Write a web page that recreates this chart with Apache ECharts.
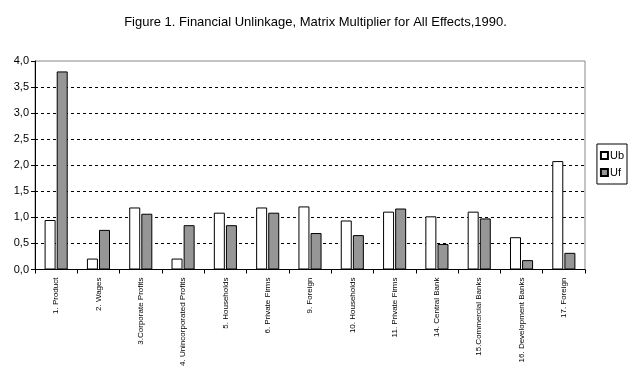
<!DOCTYPE html>
<html><head><meta charset="utf-8">
<script src="https://cdn.jsdelivr.net/npm/echarts@6/dist/echarts.min.js"></script>
<style>html,body{margin:0;padding:0;background:#fff}#c{width:631px;height:369px}</style>
</head><body><div id="c"></div>
<script>
const categories = ["1. Product","2. Wages","3.Corporate Profits","4. Unincorporated Profits","5. Households","6. Private Firms","9. Foreign","10. Households","11. Private Firms","14. Central Bank","15.Commercial Banks","16. Development Banks","17. Foreign"];
const ub = [0.95,0.21,1.19,0.21,1.09,1.19,1.21,0.94,1.11,1.02,1.11,0.62,2.08];
const uf = [3.80,0.76,1.07,0.85,0.85,1.09,0.70,0.66,1.17,0.49,0.98,0.18,0.32];
const yTicks = [0,0.5,1,1.5,2,2.5,3,3.5,4];

const chart = echarts.init(document.getElementById('c'));
chart.setOption({
  animation:false,
  backgroundColor:'#fff',
  title:{text:'Figure 1. Financial Unlinkage, Matrix Multiplier for All Effects,1990.',left:'center',top:11,
    textStyle:{fontFamily:'Liberation Sans, Arial',fontSize:13,fontWeight:'normal',color:'#000'}},
  legend:{orient:'vertical',right:4,top:144,itemWidth:7,itemHeight:7,itemGap:6,icon:'rect',
    borderColor:'#000',borderWidth:1,padding:[6,3,6,3],
    textStyle:{fontFamily:'Liberation Sans, Arial',fontSize:11,color:'#000',padding:[0,0,0,-3]},
    data:['Ub','Uf']},
  grid:{left:35,top:61,right:46,bottom:97,show:true,borderColor:'#888',borderWidth:1},
  xAxis:{type:'category',data:categories,
    axisLine:{lineStyle:{color:'#000'}},
    axisTick:{show:true,length:4,lineStyle:{color:'#000'}},
    axisLabel:{rotate:90,interval:0,fontFamily:'Liberation Sans, Arial',fontSize:8,color:'#000',margin:8}},
  yAxis:{type:'value',min:0,max:4,interval:0.5,
    axisLine:{show:true,lineStyle:{color:'#000'}},
    axisTick:{show:true,length:4,lineStyle:{color:'#000'}},
    splitLine:{showMaxLine:false,showMinLine:false,lineStyle:{color:'#000',type:[3,3]}},
    axisLabel:{fontFamily:'Liberation Sans, Arial',fontSize:11,color:'#000',margin:6,
      formatter:v=>yTicks.includes(v)?v.toFixed(1).replace('.',','):''}},
  series:[
    {name:'Ub',type:'bar',data:ub,barWidth:11,barGap:'10%',
      itemStyle:{color:'#fff',borderColor:'#000',borderWidth:1}},
    {name:'Uf',type:'bar',data:uf,barWidth:11,
      itemStyle:{color:'#969696',borderColor:'#000',borderWidth:1}}
  ]
});
</script></body></html>
